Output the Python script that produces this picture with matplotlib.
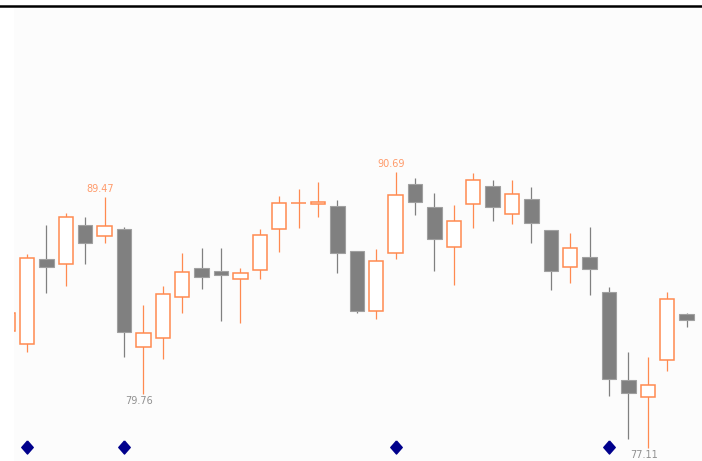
import matplotlib
matplotlib.use("Agg")
import matplotlib.pyplot as plt
from matplotlib.patches import Rectangle
from matplotlib.lines import Line2D

# ---- data ----
opens  = [82.87, 82.23, 86.39, 86.14, 88.09, 87.55, 87.88, 82.07, 82.53, 84.55,
          85.95, 85.83, 85.44, 85.85, 87.89, 89.14, 89.09, 89.02, 86.82, 83.85,
          86.71, 90.10, 88.96, 86.98, 89.09, 89.97, 88.63, 89.36, 87.81, 86.00,
          86.52, 84.80, 80.46, 79.63, 81.43, 83.70]
highs  = [83.85, 86.65, 88.07, 88.65, 88.45, 89.47, 87.99, 84.15, 85.08, 86.71,
          86.94, 86.94, 85.95, 87.88, 89.50, 89.83, 90.17, 89.30, 86.82, 86.88,
          90.69, 90.37, 89.63, 89.06, 90.61, 90.28, 90.28, 89.94, 87.83, 87.67,
          87.99, 85.02, 81.82, 81.58, 84.77, 83.77]
lows   = [82.77, 81.85, 84.75, 85.08, 86.16, 87.18, 81.61, 79.76, 81.52, 83.74,
          84.93, 83.38, 83.28, 85.42, 86.75, 87.94, 88.48, 85.70, 83.74, 83.46,
          86.42, 88.56, 85.83, 85.13, 87.91, 88.27, 88.11, 87.20, 84.90, 85.24,
          84.64, 79.68, 77.57, 77.11, 80.92, 83.05]
closes = [83.75, 86.44, 86.03, 88.45, 87.18, 88.04, 82.84, 82.79, 84.70, 85.75,
          85.54, 85.62, 85.70, 87.57, 89.17, 89.16, 89.22, 86.71, 83.85, 86.31,
          89.53, 89.20, 87.40, 88.28, 90.27, 88.97, 89.58, 88.17, 85.82, 86.93,
          85.91, 80.50, 79.84, 80.22, 84.46, 83.41]
signal_idx = [1, 6, 20, 31]
high_labels = [(5, "89.47"), (20, "90.69")]
low_labels = [(7, "79.76"), (33, "77.11")]

UP = "#ff8a50"
DOWN = "#808080"
W, H, DPI = 702, 461, 100
LEFT = 13.5

fig = plt.figure(figsize=(W / DPI, H / DPI), dpi=DPI, facecolor="white")
ax = fig.add_axes([LEFT / W, 0, (W - LEFT) / W, (H - 8) / H])
ax.set_facecolor("#fcfcfc")
for s in ax.spines.values():
    s.set_visible(False)
ax.set_xticks([])
ax.set_yticks([])

bw = 0.74
for i, (o, h, l, c) in enumerate(zip(opens, highs, lows, closes)):
    up = c >= o
    col = UP if up else DOWN
    ax.vlines(i, l, h, color=col, lw=0.9, zorder=2)
    lo, hi = min(o, c), max(o, c)
    if up:
        rect = Rectangle((i - bw / 2, lo), bw, max(hi - lo, 0.02),
                         facecolor="white", edgecolor=col, lw=1.1, zorder=3)
    else:
        rect = Rectangle((i - bw / 2, lo), bw, max(hi - lo, 0.02),
                         facecolor=DOWN, edgecolor="#a0a0a0", lw=0.8, zorder=3)
    ax.add_patch(rect)

for i, t in high_labels:
    ax.annotate(t, (i, highs[i]), xytext=(-3, 2), textcoords="offset points",
                ha="center", va="bottom", fontsize=7, color="#ff9a6a")
for i, t in low_labels:
    ax.annotate(t, (i, lows[i]), xytext=(-3, -1), textcoords="offset points",
                ha="center", va="top", fontsize=7, color="#909090")

diamond = [(0, 1), (0.88, 0), (0, -1), (-0.88, 0), (0, 1)]
trans = ax.get_xaxis_transform()
ax.plot(signal_idx, [0.031] * len(signal_idx), linestyle="none",
        marker=diamond, markersize=9.4, color="#00008c", transform=trans,
        clip_on=False, zorder=5)

ax.set_xlim((LEFT - 7.6) / 19.4, 35.79)
ax.set_ylim(76.49, 98.73)

fig.add_artist(Line2D([0, 1], [0.9863, 0.9863], transform=fig.transFigure,
                      color="black", lw=1.8))

fig.savefig("out.png", dpi=DPI, facecolor="white")
